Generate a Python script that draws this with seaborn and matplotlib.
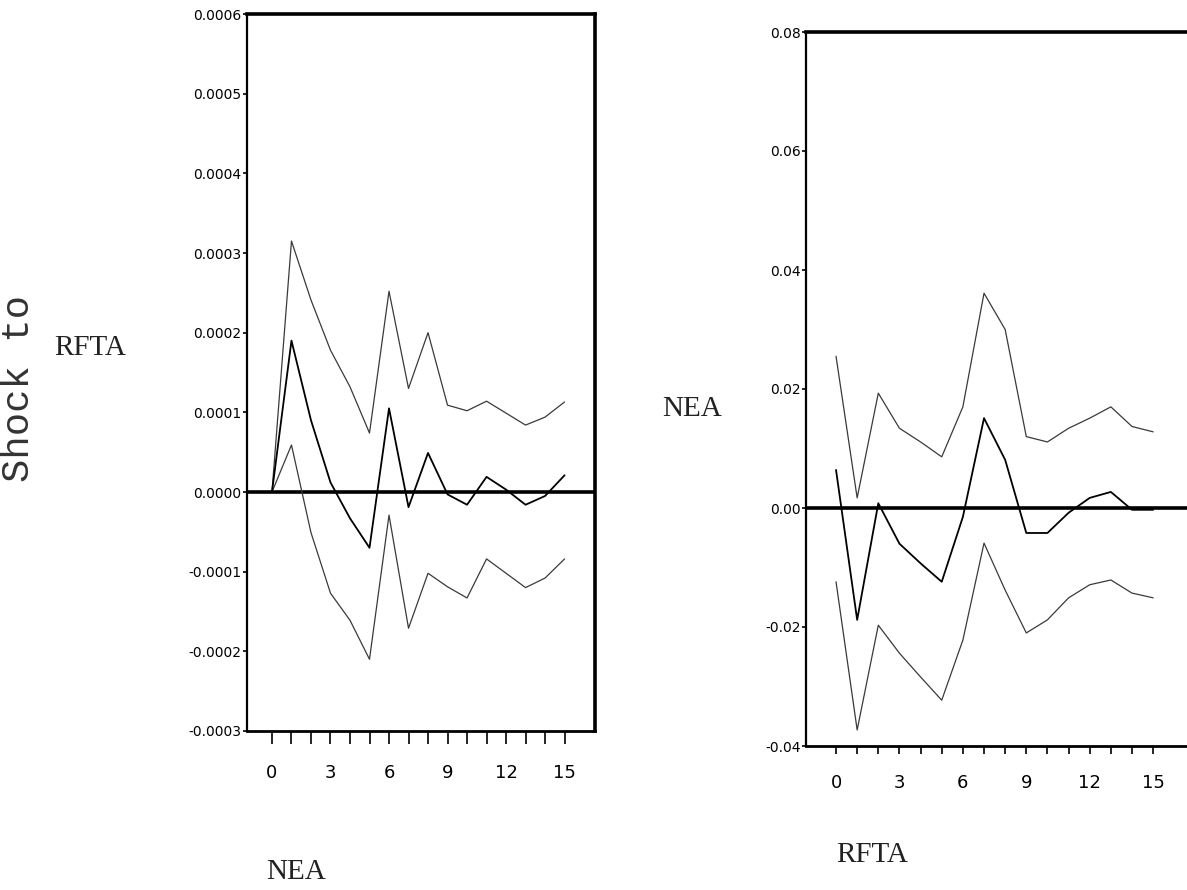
import matplotlib
matplotlib.use("Agg")
import matplotlib.pyplot as plt
import seaborn as sns
import pandas as pd

# Impulse responses (response and +/- 2 S.E. bands) over 16 periods
periods = list(range(16))

# Response of RFTA to a shock in NEA
nea_upper = [0.0, 3.15e-4, 2.41e-4, 1.78e-4, 1.32e-4, 0.74e-4, 2.52e-4, 1.30e-4,
             2.00e-4, 1.09e-4, 1.02e-4, 1.14e-4, 0.99e-4, 0.84e-4, 0.94e-4, 1.13e-4]
nea_resp = [0.0, 1.90e-4, 0.90e-4, 0.12e-4, -0.33e-4, -0.70e-4, 1.05e-4, -0.19e-4,
            0.49e-4, -0.03e-4, -0.16e-4, 0.19e-4, 0.03e-4, -0.16e-4, -0.05e-4, 0.21e-4]
nea_lower = [0.0, 0.59e-4, -0.51e-4, -1.27e-4, -1.61e-4, -2.10e-4, -0.29e-4, -1.71e-4,
             -1.02e-4, -1.19e-4, -1.33e-4, -0.84e-4, -1.02e-4, -1.20e-4, -1.08e-4, -0.84e-4]

# Response of NEA to a shock in RFTA
rfta_upper = [0.0255, 0.0017, 0.0193, 0.0134, 0.0111, 0.0086, 0.0170, 0.0361,
              0.0300, 0.0120, 0.0111, 0.0134, 0.0151, 0.0170, 0.0137, 0.0128]
rfta_resp = [0.0064, -0.0188, 0.0008, -0.0060, -0.0093, -0.0124, -0.0015, 0.0151,
             0.0081, -0.0042, -0.0042, -0.0008, 0.0017, 0.0027, -0.0003, -0.0003]
rfta_lower = [-0.0124, -0.0373, -0.0197, -0.0244, -0.0284, -0.0323, -0.0222, -0.0059,
              -0.0138, -0.0210, -0.0188, -0.0151, -0.0129, -0.0121, -0.0143, -0.0151]

left_yticks = [0.0006, 0.0005, 0.0004, 0.0003, 0.0002, 0.0001, 0.0, -0.0001, -0.0002, -0.0003]
left_ylabels = ["0.0006", "0.0005", "0.0004", "0.0003", "0.0002", "0.0001",
                "0.0000", "-0.0001", "-0.0002", "-0.0003"]
right_yticks = [0.08, 0.06, 0.04, 0.02, 0.0, -0.02, -0.04]
right_ylabels = ["0.08", "0.06", "0.04", "0.02", "0.00", "-0.02", "-0.04"]
xtick_labels = ["0", "3", "6", "9", "12", "15"]

sns.set_theme(style="white")
plt.rcParams["font.family"] = ["DejaVu Sans"]

W, H = 1187, 890
fig = plt.figure(figsize=(W / 100, H / 100), dpi=100)
fig.patch.set_facecolor("white")


def draw_panel(ax, upper, resp, lower, yticks, ylabels, ylim, xlim, ticklen, pad):
    df = pd.DataFrame({"period": periods, "upper": upper, "resp": resp, "lower": lower})
    ax.axhline(0, color="black", lw=2.6, zorder=1)
    sns.lineplot(data=df, x="period", y="upper", ax=ax, color="#3a3a3a", lw=0.9, zorder=2)
    sns.lineplot(data=df, x="period", y="lower", ax=ax, color="#3a3a3a", lw=0.9, zorder=2)
    sns.lineplot(data=df, x="period", y="resp", ax=ax, color="black", lw=1.3, zorder=3)
    ax.set_xlim(*xlim)
    ax.set_ylim(*ylim)
    ax.set_yticks(yticks)
    ax.set_yticklabels(ylabels)
    ax.set_xticks(periods, minor=True)
    ax.set_xticks([0, 3, 6, 9, 12, 15])
    ax.set_xticklabels(xtick_labels)
    ax.set_xlabel("")
    ax.set_ylabel("")
    ax.tick_params(axis="y", which="major", direction="out", length=3, width=1.2,
                   pad=1, labelsize=10, colors="black", left=True)
    ax.tick_params(axis="x", which="both", direction="out", length=ticklen, width=1.2,
                   pad=pad, labelsize=13, colors="black", bottom=True)
    for side, lw in [("left", 1.6), ("bottom", 2.0), ("top", 2.6), ("right", 2.6)]:
        ax.spines[side].set_color("black")
        ax.spines[side].set_linewidth(lw)
    ax.grid(False)
    ax.set_facecolor("white")


# Left panel: NEA shock -> RFTA
ax1 = fig.add_axes([247 / W, 1 - 731 / H, 348 / W, 717 / H])
draw_panel(ax1, nea_upper, nea_resp, nea_lower, left_yticks, left_ylabels,
           (-0.0003, 0.0006), (-1.28, 16.56), 9, 15)

# Right panel: RFTA shock -> NEA (runs past the right edge of the page)
ax2 = fig.add_axes([806 / W, 1 - 746 / H, 400 / W, 714 / H])
draw_panel(ax2, rfta_upper, rfta_resp, rfta_lower, right_yticks, right_ylabels,
           (-0.04, 0.08), (-1.42, 17.5), 6, 14)

# Row and column labels
fig.text(19 / W, 1 - 389 / H, "Shock to", rotation=90, ha="center", va="center",
         family="Liberation Mono", fontsize=28, color="#333333")
fig.text(90 / W, 1 - 348 / H, "RFTA", ha="center", va="center",
         family="Liberation Serif", fontsize=21, color="#222222")
fig.text(692 / W, 1 - 409 / H, "NEA", ha="center", va="center",
         family="Liberation Serif", fontsize=21, color="#222222")
fig.text(296 / W, 1 - 872 / H, "NEA", ha="center", va="center",
         family="Liberation Serif", fontsize=21, color="#222222")
fig.text(872 / W, 1 - 855 / H, "RFTA", ha="center", va="center",
         family="Liberation Serif", fontsize=21, color="#222222")

fig.savefig("out.png", dpi=100, facecolor="white")
